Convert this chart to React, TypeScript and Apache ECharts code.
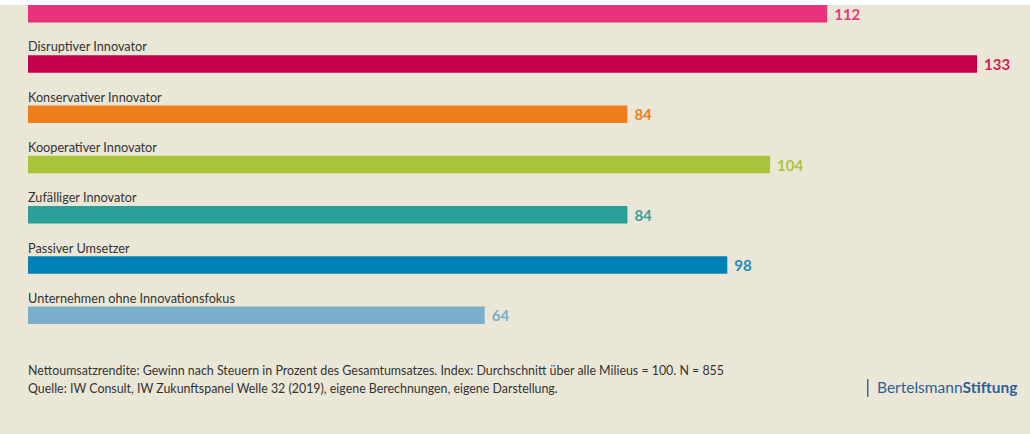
import React, { useEffect, useRef } from "react";
import * as echarts from "echarts";

const categories = [
  "Technologieführer",
  "Disruptiver Innovator",
  "Konservativer Innovator",
  "Kooperativer Innovator",
  "Zufälliger Innovator",
  "Passiver Umsetzer",
  "Unternehmen ohne Innovationsfokus",
];
const values = [112, 133, 84, 104, 84, 98, 64];
const barColors = ["#e8327c", "#c4004b", "#ee7d1b", "#a8c43a", "#2a9e98", "#0080b4", "#7aafcc"];
const labelColors = ["#e43b7c", "#cf2256", "#ee7f22", "#a9c53f", "#36a39d", "#1d8bbd", "#7aaecb"];
const noteLines = [
  "Nettoumsatzrendite: Gewinn nach Steuern in Prozent des Gesamtumsatzes. Index: Durchschnitt über alle Milieus = 100. N = 855",
  "Quelle: IW Consult, IW Zukunftspanel Welle 32 (2019), eigene Berechnungen, eigene Darstellung.",
];

export default function App() {
  const ref = useRef<HTMLDivElement>(null);
  useEffect(() => {
    if (!ref.current) return;
    const chart = echarts.init(ref.current, undefined, { renderer: "svg" });
    chart.setOption({
      animation: false,
      backgroundColor: "#ebe7d6",
      grid: { left: 28, width: 999, top: -11.5, height: 352, outerBoundsMode: "none", containLabel: false },
      xAxis: { type: "value", min: 0, max: 140, show: false },
      yAxis: {
        type: "category",
        inverse: true,
        data: categories,
        axisLine: { show: false },
        axisTick: { show: false },
        splitLine: { show: false },
        axisLabel: { show: false },
      },
      series: [
        {
          type: "bar",
          barWidth: 17.5,
          data: values.map((v, i) => ({
            value: v,
            itemStyle: { color: barColors[i] },
            label: { color: labelColors[i] },
          })),
          label: {
            show: true,
            position: "right",
            distance: 7,
            fontFamily: "Lato",
            fontWeight: "bold",
            fontSize: 15,
          },
        },
        {
          type: "bar",
          barWidth: 17.5,
          barGap: "-100%",
          silent: true,
          itemStyle: { color: "rgba(0,0,0,0)" },
          data: values.map((v, i) => ({ value: v, name: categories[i] })),
          label: {
            show: true,
            position: "insideLeft",
            distance: 0,
            offset: [0, -17.5],
            color: "#333333",
            fontFamily: "Lato",
            fontSize: 12.7,
            formatter: (p: any) => (p.dataIndex === 0 ? "" : categories[p.dataIndex]),
          },
        },
      ],
      graphic: [
        { type: "rect", left: 0, top: 0, z: 100, shape: { width: 1030, height: 5 }, style: { fill: "#ffffff" } },
        {
          type: "text",
          left: 28,
          top: 364,
          style: { text: noteLines[0], fill: "#333333", font: "12.4px Lato" },
        },
        {
          type: "text",
          left: 28,
          top: 382,
          style: { text: noteLines[1], fill: "#333333", font: "12.4px Lato" },
        },
        {
          type: "rect",
          left: 867,
          top: 379,
          shape: { width: 1.5, height: 18 },
          style: { fill: "#3a6aa0" },
        },
        {
          type: "text",
          left: 877,
          top: 379,
          style: {
            text: "{a|Bertelsmann}{b|Stiftung}",
            rich: {
              a: { fill: "#2e5f97", font: "15.5px Lato" },
              b: { fill: "#2e5f97", font: "bold 15.5px Lato" },
            },
          },
        },
      ],
    });
    return () => chart.dispose();
  }, []);
  return <div ref={ref} style={{ position: "fixed", left: 0, top: 0, width: 1030, height: 434 }} />;
}
